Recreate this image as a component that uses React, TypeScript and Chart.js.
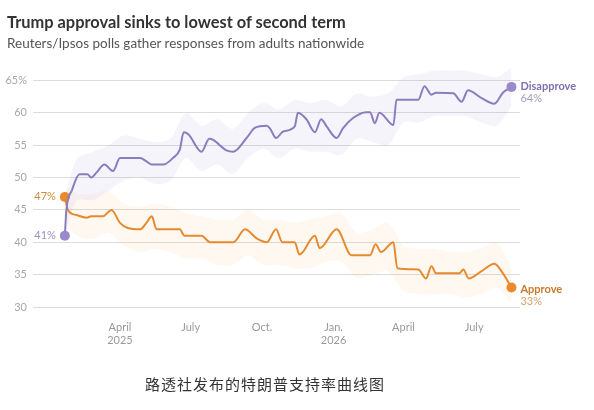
import { useEffect, useRef } from "react";
import { Chart, registerables } from "chart.js";

Chart.register(...registerables);

// days counted from Jan 1 2025
const disapproveDays = [
  19, 21, 28, 38, 48, 53, 60, 70, 81, 90, 116, 124, 131, 146, 158, 167, 172, 178,
  195, 205, 210, 227, 236, 253, 264, 279, 283, 291, 300, 315, 319, 330, 341, 349,
  356, 369, 377, 390, 407, 412, 418, 424, 442, 446, 474, 482, 491, 497, 519, 530,
  538, 555, 572, 583, 594,
];
const disapproveValues = [
  41, 45, 48, 50.5, 50.5, 50, 50.8, 52, 51, 53, 53, 52.5, 52, 52, 53, 54.3, 57, 56.7,
  54, 56, 55.8, 54.2, 54, 56.1, 57.7, 58, 57.6, 56.1, 57.1, 57.9, 60, 59, 57, 59,
  57.9, 56.1, 57.6, 59.2, 60.1, 60.1, 58.4, 60, 58.1, 62, 62, 64.1, 62.8, 63.1, 63, 61.7,
  63.5, 62.3, 61.4, 63.1, 64,
];

const approveDays = [
  19, 23, 34, 47, 53, 68, 79, 90, 100, 116, 124, 131, 137, 167, 173, 195, 206, 236,
  251, 266, 279, 291, 299, 315, 321, 341, 347, 369, 388, 412, 419, 426, 442, 447,
  474, 484, 491, 497, 527, 532, 539, 555, 572, 583, 594,
];
const approveValues = [
  47, 45, 44.2, 43.8, 44, 44, 45, 43, 42.2, 42, 43, 44, 42, 42, 41, 41, 40, 40,
  42, 40.6, 40, 42, 40, 40, 38.1, 41, 39.1, 42, 38, 38, 39.7, 38.5, 40, 36,
  35.8, 34.4, 36.3, 35.2, 35.2, 35.8, 34.4, 35.5, 36.7, 35.2, 33,
];

const bandDays = [
  21, 35, 55, 75, 95, 115, 135, 155, 175, 195, 215, 235, 255, 275, 295, 315, 335,
  355, 375, 395, 415, 435, 455, 475, 495, 515, 535, 555, 575, 594,
];
const disapproveUpper = [
  48, 53, 54, 55, 56.5, 56, 55.5, 56, 60, 58, 59, 57.5, 60, 61.5, 60.5, 62, 61.5,
  62, 61, 63, 62.5, 63, 65.5, 66, 66.5, 66.5, 66.5, 66, 65.5, 67,
];
const disapproveLower = [
  42, 46.5, 46.5, 48, 49.5, 50, 49, 49.5, 53, 51, 52, 50.5, 53, 54.5, 53, 54.5, 54,
  54, 53.5, 56, 55.5, 55, 58.5, 58.5, 59.5, 59.5, 59.5, 58.5, 58, 61,
];
const approveUpper = [
  48.5, 47.5, 47.5, 48, 46, 45.5, 46, 45.5, 44.5, 44, 43.5, 43.5, 45, 43.5, 43.5, 43,
  43.5, 44, 44.5, 41.5, 42, 43, 39.5, 39, 39, 38.5, 38.5, 39, 40, 36,
];
const approveLower = [
  42.5, 41, 40.5, 41.5, 39.5, 38.5, 39, 38.5, 37.5, 37.5, 36.5, 36.5, 38, 36.5, 36.5,
  36, 36, 37, 37, 34.5, 35, 35.5, 32.5, 32, 32, 32, 31.5, 32, 33, 30.5,
];

const xTickDays = [90, 181, 273, 365, 455, 546];
const xTickLabels: (string | string[])[] = [
  ["April", "2025"],
  "July",
  "Oct.",
  ["Jan.", "2026"],
  "April",
  "July",
];
const yTicks = [30, 35, 40, 45, 50, 55, 60, 65];

const PURPLE = "#8a7dbd";
const ORANGE = "#e68a2e";

const toPoints = (days: number[], vals: number[]) =>
  days.map((d, i) => ({ x: d, y: vals[i] }));

const endLabels = {
  id: "endLabels",
  afterDatasetsDraw(chart: any) {
    const ctx = chart.ctx as CanvasRenderingContext2D;
    const dis = chart.getDatasetMeta(0).data;
    const app = chart.getDatasetMeta(1).data;
    const dFirst = dis[0];
    const dLast = dis[dis.length - 1];
    const aFirst = app[0];
    const aLast = app[app.length - 1];
    ctx.save();
    ctx.textBaseline = "middle";

    ctx.font = "11px Lato";
    ctx.textAlign = "right";
    ctx.fillStyle = "#cf8a3c";
    ctx.fillText(`${approveValues[0]}%`, aFirst.x - 9, aFirst.y);
    ctx.fillStyle = "#9a90c8";
    ctx.fillText(`${disapproveValues[0]}%`, dFirst.x - 9, dFirst.y);

    ctx.textAlign = "left";
    ctx.font = "bold 11px Lato";
    ctx.fillStyle = "#7f70b2";
    ctx.fillText("Disapprove", dLast.x + 9, dLast.y);
    ctx.fillStyle = "#c97a2a";
    ctx.fillText("Approve", aLast.x + 9, aLast.y + 2);
    ctx.font = "11px Lato";
    ctx.fillStyle = "#a29dbf";
    ctx.fillText(`${disapproveValues[disapproveValues.length - 1]}%`, dLast.x + 9, dLast.y + 12);
    ctx.fillStyle = "#d6a070";
    ctx.fillText(`${approveValues[approveValues.length - 1]}%`, aLast.x + 9, aLast.y + 14);
    ctx.restore();
  },
};

function ApprovalChart() {
  const canvasRef = useRef<HTMLCanvasElement | null>(null);
  const chartRef = useRef<Chart | null>(null);

  useEffect(() => {
    if (!canvasRef.current) {
      return;
    }
    if (chartRef.current) {
      chartRef.current.destroy();
    }

    const endRadius = (n: number) => (c: any) =>
      c.dataIndex === 0 || c.dataIndex === n - 1 ? 5 : 0;

    chartRef.current = new Chart(canvasRef.current, {
      type: "line",
      data: {
        datasets: [
          {
            label: "Disapprove",
            data: toPoints(disapproveDays, disapproveValues),
            borderColor: PURPLE,
            backgroundColor: "#9b89cc",
            borderWidth: 2,
            cubicInterpolationMode: "monotone",
            pointRadius: endRadius(disapproveDays.length),
            pointBorderWidth: 0,
            fill: false,
          },
          {
            label: "Approve",
            data: toPoints(approveDays, approveValues),
            borderColor: ORANGE,
            backgroundColor: "#ea8a2c",
            borderWidth: 2,
            cubicInterpolationMode: "monotone",
            pointRadius: endRadius(approveDays.length),
            pointBorderWidth: 0,
            fill: false,
          },
          {
            label: "dUpper",
            data: toPoints(bandDays, disapproveUpper),
            borderWidth: 0,
            pointRadius: 0,
            tension: 0.3,
            backgroundColor: "rgba(140,120,205,0.08)",
            fill: "+1",
          },
          {
            label: "dLower",
            data: toPoints(bandDays, disapproveLower),
            borderWidth: 0,
            pointRadius: 0,
            tension: 0.3,
            fill: false,
          },
          {
            label: "aUpper",
            data: toPoints(bandDays, approveUpper),
            borderWidth: 0,
            pointRadius: 0,
            tension: 0.3,
            backgroundColor: "rgba(250,170,80,0.08)",
            fill: "+1",
          },
          {
            label: "aLower",
            data: toPoints(bandDays, approveLower),
            borderWidth: 0,
            pointRadius: 0,
            tension: 0.3,
            fill: false,
          },
        ],
      },
      options: {
        animation: false,
        responsive: false,
        layout: { padding: { top: 61, right: 74, bottom: 63, left: 0 } },
        plugins: {
          legend: { display: false },
          tooltip: { enabled: false },
        },
        scales: {
          x: {
            type: "linear",
            min: -22,
            max: 605,
            grid: { display: false },
            border: { display: false },
            afterBuildTicks: (axis: any) => {
              axis.ticks = xTickDays.map((v) => ({ value: v }));
            },
            afterFit: (axis: any) => {
              axis.height = 40;
            },
            ticks: {
              autoSkip: false,
              maxRotation: 0,
              padding: 6,
              color: "#9a9a9a",
              font: { family: "Lato", size: 11, lineHeight: 1.2 },
              callback: (_v: any, i: number) => xTickLabels[i],
            },
          },
          y: {
            min: 30,
            max: 68,
            border: { display: false },
            grid: { color: "#dcdcdc", drawTicks: false, lineWidth: 1 },
            afterBuildTicks: (axis: any) => {
              axis.ticks = yTicks.map((v) => ({ value: v }));
            },
            afterFit: (axis: any) => {
              axis.width = 33;
            },
            ticks: {
              padding: 6,
              color: "#a8a8a8",
              font: { family: "Lato", size: 11 },
              callback: (v: any) => (v === 65 ? "65%" : String(v)),
            },
          },
        },
      },
      plugins: [endLabels],
    });

    return () => {
      chartRef.current?.destroy();
      chartRef.current = null;
    };
  }, []);

  return <canvas ref={canvasRef} width={594} height={410} style={{ position: "absolute", left: 0, top: 0 }} />;
}

export default function App() {
  return (
    <div
      style={{
        position: "fixed",
        left: 0,
        top: 0,
        width: 594,
        height: 410,
        background: "#fff",
        overflow: "hidden",
        fontFamily: "Lato, sans-serif",
      }}
    >
      <ApprovalChart />
      <div
        style={{
          position: "absolute",
          left: 7,
          top: 12,
          fontSize: 16.4,
          fontWeight: 700,
          color: "#333",
          whiteSpace: "nowrap",
        }}
      >
        Trump approval sinks to lowest of second term
      </div>
      <div
        style={{
          position: "absolute",
          left: 7,
          top: 35,
          fontSize: 13.5,
          color: "#555",
          whiteSpace: "nowrap",
        }}
      >
        Reuters/Ipsos polls gather responses from adults nationwide
      </div>
      <div
        style={{
          position: "absolute",
          left: 145,
          top: 373,
          fontSize: 15,
          letterSpacing: 1,
          color: "#333",
          fontFamily: '"Noto Sans CJK SC", sans-serif',
          whiteSpace: "nowrap",
        }}
      >
        路透社发布的特朗普支持率曲线图
      </div>
    </div>
  );
}
